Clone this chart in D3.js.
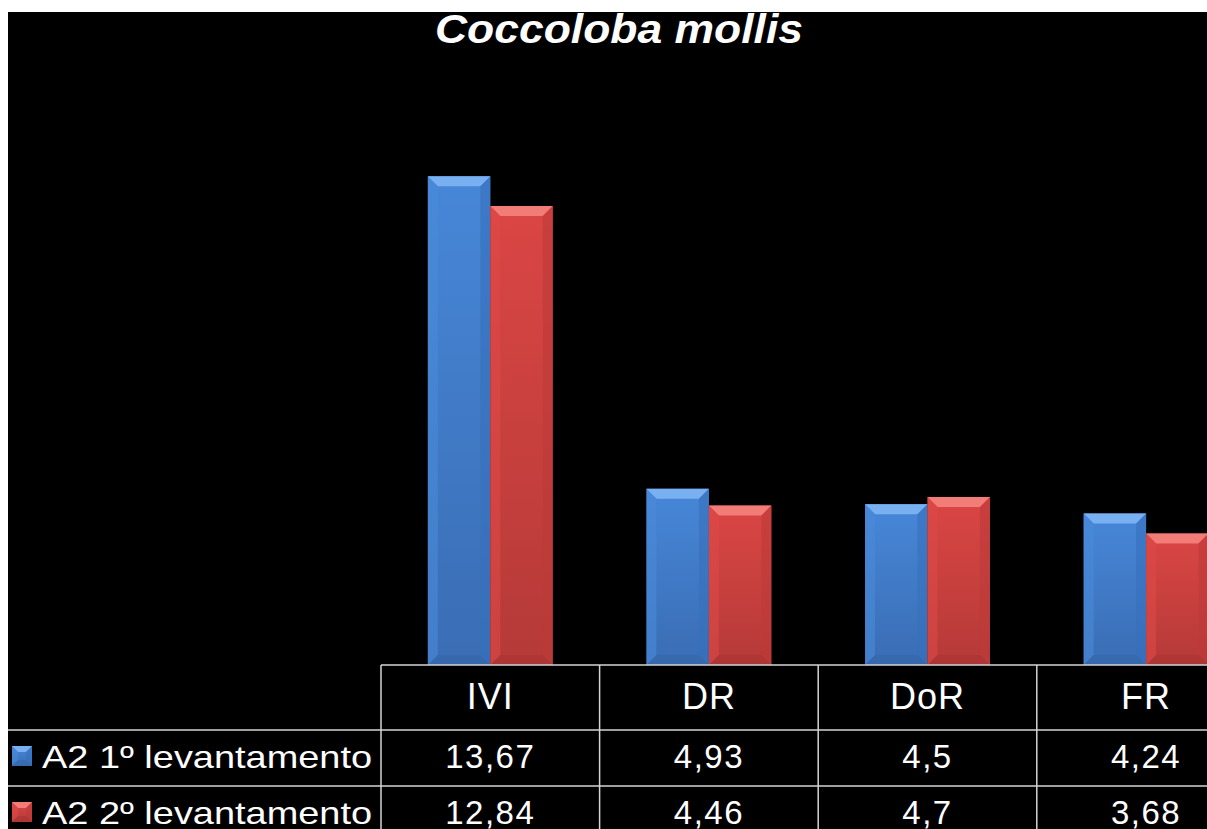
<!DOCTYPE html>
<html>
<head>
<meta charset="utf-8">
<script src="https://cdn.jsdelivr.net/npm/d3@7"></script>
<style>
  html, body { margin: 0; padding: 0; background: #fff; }
  svg { display: block; }
  text { font-family: "Liberation Sans", Arial, sans-serif; fill: #fff; }
</style>
</head>
<body>
<div id="chart"></div>
<script>
const WIDTH = 1207;
const HEIGHT = 829;

// data
const categories = ["IVI", "DR", "DoR", "FR"];
const seriesNames = ["A2 1º levantamento", "A2 2º levantamento"];
const serie1 = [13.67, 4.93, 4.5, 4.24];
const serie2 = [12.84, 4.46, 4.7, 3.68];
const yTicks = [0, 2, 4, 6, 8, 10, 12, 14, 16];

const series = [
  { name: seriesNames[0], values: serie1, key: "blue" },
  { name: seriesNames[1], values: serie2, key: "red" }
];

const COLORS = {
  blue: { top: "#4787d8", bottom: "#3a6db4", light: "#78b0f2", left: "#4a8ad8", right: "#3770bc", dark: "#3566a8" },
  red:  { top: "#da4644", bottom: "#b53a38", light: "#f27c78", left: "#dc4a48", right: "#bc3a38", dark: "#a83432" }
};

// layout
const BG_LEFT = 8, BG_TOP = 12;
const TABLE_LEFT = 381;
const TABLE_TOP = 665;
const COL_W = 218.6;
const HEADER_H = 65;
const ROW_H = 56;
const BEVEL = 10;
const LINE_COLOR = "#d4d4d4";

const fmt = v => String(v).replace(".", ",");

const svg = d3.select("#chart")
  .append("svg")
  .attr("width", WIDTH)
  .attr("height", HEIGHT);

svg.append("rect")
  .attr("x", BG_LEFT).attr("y", BG_TOP)
  .attr("width", WIDTH - BG_LEFT).attr("height", HEIGHT - BG_TOP)
  .attr("fill", "#000");

// gradients for the bar faces
const defs = svg.append("defs");
Object.keys(COLORS).forEach(k => {
  const gr = defs.append("linearGradient")
    .attr("id", "grad-" + k)
    .attr("x1", 0).attr("y1", 0).attr("x2", 0).attr("y2", 1);
  gr.append("stop").attr("offset", "0%").attr("stop-color", COLORS[k].top);
  gr.append("stop").attr("offset", "100%").attr("stop-color", COLORS[k].bottom);
});

// scales
const x = d3.scaleBand()
  .domain(categories)
  .range([TABLE_LEFT, TABLE_LEFT + COL_W * categories.length])
  .paddingInner(0)
  .paddingOuter(0);

// gap width 150% of a bar -> step = 3.5 bars
const barW = x.bandwidth() / 3.5;
const xs = d3.scaleBand()
  .domain(d3.range(series.length))
  .range([0.75 * barW, 0.75 * barW + 2 * barW]);

const y = d3.scaleLinear()
  .domain([yTicks[0], yTicks[yTicks.length - 1]])
  .range([TABLE_TOP, 93]);

// title
svg.append("text")
  .attr("x", 619)
  .attr("y", 43)
  .attr("text-anchor", "middle")
  .attr("font-size", 40)
  .attr("font-weight", "bold")
  .attr("font-style", "italic")
  .attr("textLength", 368)
  .attr("lengthAdjust", "spacingAndGlyphs")
  .text("Coccoloba mollis");

// bars with a bevel look
function drawBevelBar(g, bx, by, bw, bh, c, gradId, b) {
  g.append("rect")
    .attr("x", bx).attr("y", by).attr("width", bw).attr("height", bh)
    .attr("fill", `url(#${gradId})`);
  const poly = (pts, fill, op) => g.append("polygon")
    .attr("points", pts.map(p => p.join(",")).join(" "))
    .attr("fill", fill)
    .attr("opacity", op);
  const bb = Math.min(b, bh / 2);
  poly([[bx, by], [bx + bw, by], [bx + bw - b, by + bb], [bx + b, by + bb]], c.light, 1);
  poly([[bx, by], [bx + b, by + bb], [bx + b, by + bh - bb], [bx, by + bh]], c.left, 0.6);
  poly([[bx + bw, by], [bx + bw - b, by + bb], [bx + bw - b, by + bh - bb], [bx + bw, by + bh]], c.right, 0.6);
  poly([[bx, by + bh], [bx + b, by + bh - bb], [bx + bw - b, by + bh - bb], [bx + bw, by + bh]], c.dark, 0.6);
}

const barsG = svg.append("g").attr("class", "bars");
series.forEach((s, si) => {
  s.values.forEach((v, ci) => {
    const bx = x(categories[ci]) + xs(si);
    const by = y(v);
    const bh = y(0) - y(v);
    drawBevelBar(barsG, bx, by, xs.bandwidth(), bh, COLORS[s.key], "grad-" + s.key, BEVEL);
  });
});

// data table
const tableG = svg.append("g").attr("class", "table");

// horizontal lines
tableG.append("line")
  .attr("x1", TABLE_LEFT).attr("x2", WIDTH)
  .attr("y1", TABLE_TOP).attr("y2", TABLE_TOP);
[1, 2].forEach(r => {
  const ly = TABLE_TOP + HEADER_H + (r - 1) * ROW_H;
  tableG.append("line")
    .attr("x1", BG_LEFT).attr("x2", WIDTH)
    .attr("y1", ly).attr("y2", ly);
});
// vertical lines
categories.forEach(c => {
  tableG.append("line")
    .attr("x1", x(c)).attr("x2", x(c))
    .attr("y1", TABLE_TOP).attr("y2", HEIGHT);
});
tableG.selectAll("line")
  .attr("stroke", LINE_COLOR)
  .attr("stroke-width", 1.5);

// header labels
tableG.selectAll("text.head")
  .data(categories)
  .enter()
  .append("text")
  .attr("class", "head")
  .attr("x", d => x(d) + x.bandwidth() / 2)
  .attr("y", TABLE_TOP + 44)
  .attr("text-anchor", "middle")
  .attr("font-size", 36)
  .attr("letter-spacing", 1)
  .text(d => d);

// value rows + legend keys
series.forEach((s, si) => {
  const rowTop = TABLE_TOP + HEADER_H + si * ROW_H;
  const baseY = rowTop + 38;

  tableG.selectAll("text.val" + si)
    .data(s.values)
    .enter()
    .append("text")
    .attr("class", "val" + si)
    .attr("x", (d, i) => x(categories[i]) + x.bandwidth() / 2)
    .attr("y", baseY)
    .attr("text-anchor", "middle")
    .attr("font-size", 33)
    .attr("letter-spacing", 1.5)
    .text(d => fmt(d));

  const kg = tableG.append("g");
  drawBevelBar(kg, 12, rowTop + 16, 20, 20, COLORS[s.key], "grad-" + s.key, 6);

  tableG.append("text")
    .attr("x", 42)
    .attr("y", baseY)
    .attr("font-size", 32)
    .attr("textLength", 330)
    .attr("lengthAdjust", "spacingAndGlyphs")
    .text(s.name);
});
</script>
</body>
</html>
